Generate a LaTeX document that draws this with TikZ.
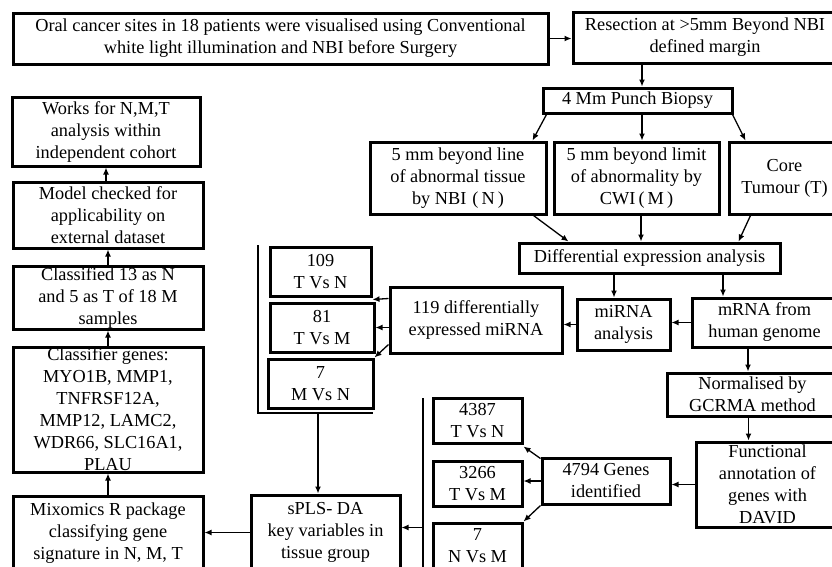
\documentclass[tikz,border=0pt]{standalone}
\usepackage{fontspec}
\setmainfont{Liberation Serif}
\usetikzlibrary{arrows.meta}
\begin{document}
\begin{tikzpicture}[x=1pt,y=-1pt,
  box/.style={draw, line width=3pt, align=center, inner sep=0pt,
    font=\fontsize{18.3}{22}\selectfont},
  link/.style={line width=1.3pt},
  arr/.style={link, -{Latex[length=7pt,width=6pt]}}]
\useasboundingbox (0,0) rectangle (832,566);
\clip (0,0) rectangle (832,566);

% top row
\node[box, minimum width=535, minimum height=51] (top) at (280.5,38.5)
  {Oral cancer sites in 18 patients were visualised using Conventional\\white light illumination and NBI before Surgery};
\node[box, minimum width=264, minimum height=51] (resect) at (705,37.5)
  {Resection at >5mm Beyond NBI\\defined margin};
\node[box, minimum width=189, minimum height=25] (punch) at (637.5,100.5)
  {4 Mm Punch Biopsy};

% sampled sites
\node[box, minimum width=176, minimum height=72] (nsite) at (458,178)
  {5 mm beyond line\\of abnormal tissue\\by NBI\,\,(\,N\,)};
\node[box, minimum width=165, minimum height=72] (msite) at (636.5,178)
  {5 mm beyond limit\\of abnormality by\\CWI\,(\,M\,)};
\node[box, minimum width=111, minimum height=72] (tsite) at (784.5,178)
  {Core\\Tumour (T)};

\node[box, minimum width=261, minimum height=30] (diff) at (649.5,258)
  {Differential expression analysis};
\node[box, minimum width=93, minimum height=51] (mirna) at (623.5,324.5)
  {miRNA\\analysis};
\node[box, minimum width=145, minimum height=49] (mrna) at (764.5,322.5)
  {mRNA from\\human genome};

% miRNA branch
\node[box, minimum width=172, minimum height=66] (d119) at (476,320)
  {119 differentially\\expressed miRNA};
\node[box, minimum width=101, minimum height=49] (r109) at (320.5,271.5)
  {109\\T Vs N};
\node[box, minimum width=104, minimum height=49] (r81) at (322,327.5)
  {81\\T Vs M};
\node[box, minimum width=105, minimum height=49] (r7) at (320.5,383.5)
  {7\\M Vs N};

% mRNA branch
\node[box, minimum width=171, minimum height=43] (norm) at (752.5,394.5)
  {Normalised by\\GCRMA method};
\node[box, minimum width=143, minimum height=85] (func) at (767.5,484.5)
  {Functional\\annotation of\\genes with\\DAVID};
\node[box, minimum width=128, minimum height=46] (g4794) at (606,481)
  {4794 Genes\\identified};
\node[box, minimum width=89, minimum height=45] (g4387) at (477.5,420.5)
  {4387\\T Vs N};
\node[box, minimum width=89, minimum height=45] (g3266) at (477.5,483.5)
  {3266\\T Vs M};
\node[box, minimum width=89, minimum height=45] (g7) at (477.5,545.5)
  {7\\N Vs M};

% classification
\node[box, minimum width=149, minimum height=75] (spls) at (325.5,532.5)
  {sPLS- DA\\key variables in\\tissue group};
\node[box, minimum width=190, minimum height=74] (mix) at (108,533)
  {Mixomics R package\\classifying gene\\signature in N, M, T};
\node[box, minimum width=190, minimum height=125] (genes) at (108,409.5)
  {Classifier genes:\\MYO1B, MMP1,\\TNFRSF12A,\\MMP12, LAMC2,\\WDR66, SLC16A1,\\PLAU};
\node[box, minimum width=190, minimum height=63] (classed) at (108,297.5)
  {Classified 13 as N\\and 5 as T of 18 M\\samples};
\node[box, minimum width=190, minimum height=66] (model) at (108,215)
  {Model checked for\\applicability on\\external dataset};
\node[box, minimum width=188, minimum height=69] (works) at (106,131.5)
  {Works for N,M,T\\analysis within\\independent cohort};

% bracket lines collecting the result groups
\coordinate (lt) at (258,245);
\coordinate (lb) at (258,413);
\coordinate (lr) at (373,413);
\coordinate (rt) at (423,398);
\coordinate (rb) at (423,580);
\draw[link] (lt) -- (lb) -- (lr);
\draw[link] (rt) -- (rb);

% connectors
\draw[arr] (top.east) -- (top.east -| resect.west);
\draw[arr] ([xshift=4.5pt]punch.north |- resect.south) -- ([xshift=4.5pt]punch.north);
\draw[arr] ([xshift=5pt]punch.south west) -- ([xshift=-15pt]nsite.north east);
\draw[arr] ([xshift=4.5pt]punch.south) -- ([xshift=4.5pt]punch.south |- msite.north);
\draw[arr] ([xshift=-1pt]punch.south east) -- ([xshift=18pt]tsite.north west);
\draw[arr] ([xshift=-14pt]nsite.south east) -- ([xshift=51pt]diff.north west);
\draw[arr] ([xshift=4.5pt]msite.south) -- ([xshift=4.5pt]msite.south |- diff.north);
\draw[arr] ([xshift=23pt]tsite.south west) -- ([xshift=-43pt]diff.north east);
\draw[arr] ([xshift=-9.5pt]mirna.north |- diff.south) -- ([xshift=-9.5pt]mirna.north);
\draw[arr] ([xshift=-41.5pt]mrna.north |- diff.south) -- ([xshift=-41.5pt]mrna.north);
\draw[arr] (mrna.west) -- (mrna.west -| mirna.east);
\draw[arr] (mirna.west) -- (mirna.west -| d119.east);

\draw[arr] ([yshift=-13pt]d119.north west) -- ([yshift=-2pt]r109.south east);
\draw[arr] (d119.west |- r81.east) -- (r81.east);
\draw[arr] ([yshift=10pt]d119.south west) -- (r7.north east);

\draw[arr] ([xshift=-16.5pt]mrna.south) -- ([xshift=-16.5pt]mrna.south |- norm.north);
\draw[arr] ([xshift=-4pt]norm.south) -- ([xshift=-4pt]norm.south |- func.north);
\draw[arr] (func.west) -- (func.west -| g4794.east);
\draw[arr] ([yshift=-2pt]g4794.north west) -- ([yshift=-2pt]g4387.south east);
\draw[arr] (g4794.west) -- (g4794.west -| g3266.east);
\draw[arr] (g4794.south west) -- (g7.north east);

\coordinate (spin) at ([yshift=5pt]spls.east);
\draw[arr] (rt |- spin) -- (spin);
\draw[arr] ([xshift=-7.5pt]spls.north |- lb) -- ([xshift=-7.5pt]spls.north);
\draw[arr] (spls.west) -- (spls.west -| mix.east);
\draw[arr] (mix.north) -- (genes.south);
\draw[arr] (genes.north) -- (classed.south);
\draw[arr] (classed.north) -- (model.south);
\draw[arr] (model.north -| works.south) -- (works.south);
\end{tikzpicture}
\end{document}
